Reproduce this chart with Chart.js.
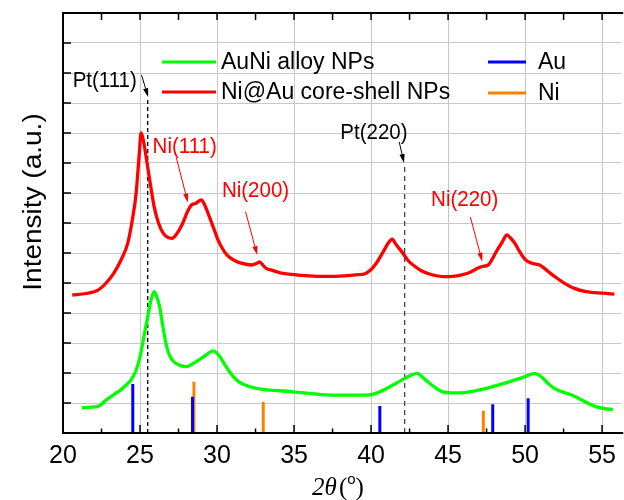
<!DOCTYPE html>
<html><head><meta charset="utf-8">
<script src="https://cdn.jsdelivr.net/npm/chart.js@4/dist/chart.umd.min.js"></script>
<style>html,body{margin:0;padding:0;background:#fff}#wrap{width:624px;height:500px}</style>
</head><body><div id="wrap"><canvas id="c" width="624" height="500"></canvas></div>
<script>
// ---- data ----
const coreX = [20.6,21.5,22.3,22.8,23.3,23.8,24.2,24.5,24.75,24.95,25.07,25.2,25.46,25.7,25.92,26.2,26.5,26.8,27.07,27.4,27.77,28.1,28.34,28.6,28.99,29.2,29.5,29.8,30.07,30.35,30.65,31.1,31.57,32.27,32.6,32.77,33.0,33.19,33.6,34.1,35.0,35.95,37.0,38.26,39.0,39.65,40.0,40.34,40.8,41.1,41.38,41.6,42.07,42.4,42.88,43.3,43.8,44.72,45.3,45.88,46.4,46.8,47.2,47.61,47.85,48.07,48.5,48.83,49.05,49.34,49.7,50.03,50.5,50.95,51.3,51.65,52.1,52.57,53.2,53.96,55.1,55.8];
const coreY = [4.6,4.65,4.77,5.0,5.33,5.8,6.32,7.1,8.0,9.3,10.0,9.8,8.99,8.2,7.54,7.0,6.66,6.52,6.49,6.65,6.99,7.4,7.6,7.65,7.77,7.6,7.21,6.8,6.43,6.15,5.93,5.76,5.66,5.6,5.66,5.7,5.58,5.49,5.42,5.34,5.28,5.24,5.22,5.24,5.27,5.32,5.45,5.66,6.05,6.32,6.46,6.3,5.99,5.75,5.54,5.4,5.3,5.21,5.22,5.27,5.35,5.46,5.55,5.6,5.78,5.99,6.35,6.6,6.5,6.32,6.0,5.77,5.65,5.6,5.47,5.32,5.15,4.99,4.82,4.71,4.66,4.63];
const alloyX = [21.23,21.8,22.34,22.8,23.3,23.73,24.1,24.42,24.75,25.0,25.25,25.46,25.7,25.92,26.05,26.27,26.5,26.73,26.95,27.19,27.6,28.0,28.4,28.8,29.3,29.73,29.95,30.19,30.5,30.88,31.2,31.57,32.1,32.73,33.7,34.8,36.0,37.11,38.5,39.88,40.5,41.03,41.6,42.18,42.6,42.99,43.4,43.8,44.2,44.6,45.2,45.88,46.7,47.49,48.4,49.34,50.0,50.61,50.9,51.18,51.6,52.1,53.03,53.6,54.18,54.6,55.1,55.7];
const alloyY = [0.84,0.86,0.9,1.1,1.28,1.43,1.6,1.77,2.1,2.54,3.2,3.77,4.4,4.71,4.6,4.21,3.5,2.88,2.55,2.38,2.25,2.21,2.3,2.43,2.6,2.74,2.68,2.54,2.28,1.99,1.8,1.66,1.55,1.47,1.42,1.38,1.32,1.27,1.26,1.27,1.36,1.49,1.65,1.82,1.93,1.99,1.83,1.66,1.5,1.38,1.34,1.34,1.4,1.49,1.62,1.77,1.88,1.99,1.93,1.82,1.6,1.43,1.27,1.12,0.97,0.88,0.82,0.78];
const auPos = [24.53, 28.41, 40.57, 47.9, 50.2];
const auInt = [1.63, 1.21, 0.9, 0.96, 1.16];
const niPos = [28.5, 33.0, 47.29];
const niInt = [1.71, 1.04, 0.74];
const ptPos = [25.5, 42.18];
const ptTop = [11.2, 9.0];
const xTicks = [20, 25, 30, 35, 40, 45, 50, 55];
const seriesNames = ['AuNi alloy NPs', 'Ni@Au core-shell NPs', 'Au', 'Ni'];

// ---- helpers ----
const pts = (xs, ys) => xs.map((v, i) => ({x: v, y: ys[i]}));
const sticks = (xs, hs) => xs.flatMap((v, i) => [{x: v, y: 0}, {x: v, y: hs[i]}, {x: v, y: null}]);

const FONT = '"Liberation Sans", Arial, sans-serif';
const notes = [
  {text: 'Pt(111)', color: '#000', tx: 22.71, ty: 11.74, a: [25.10, 11.93, 25.53, 11.2]},
  {text: 'Pt(220)', color: '#000', tx: 40.19, ty: 10.0, a: [41.83, 9.7, 42.14, 9.0]},
  {text: 'Ni(111)', color: '#ff0000', tx: 27.9, ty: 9.54, a: [27.36, 9.17, 28.11, 7.68]},
  {text: 'Ni(200)', color: '#ff0000', tx: 32.5, ty: 8.08, a: [31.85, 7.38, 32.61, 5.93]},
  {text: 'Ni(220)', color: '#ff0000', tx: 46.08, ty: 7.77, a: [46.45, 7.2, 47.22, 5.71]}
];
const legendItems = [
  {name: seriesNames[0], color: '#00ff00', x0: 162, x1: 216, tx: 221, y: 62},
  {name: seriesNames[1], color: '#ff0000', x0: 162, x1: 216, tx: 221, y: 92},
  {name: seriesNames[2], color: '#0000ff', x0: 488, x1: 526, tx: 538, y: 62},
  {name: seriesNames[3], color: '#ff8000', x0: 488, x1: 526, tx: 538, y: 93}
];

function arrow(ctx, x0, y0, x1, y1, color) {
  ctx.strokeStyle = color; ctx.fillStyle = color; ctx.lineWidth = 1; ctx.setLineDash([]);
  const ang = Math.atan2(y1 - y0, x1 - x0), L = 9, W = 2.6;
  const bx = x1 - L * Math.cos(ang), by = y1 - L * Math.sin(ang);
  ctx.beginPath(); ctx.moveTo(x0, y0); ctx.lineTo(bx, by); ctx.stroke();
  ctx.beginPath();
  ctx.moveTo(x1, y1);
  ctx.lineTo(bx + W * Math.sin(ang), by - W * Math.cos(ang));
  ctx.lineTo(bx - W * Math.sin(ang), by + W * Math.cos(ang));
  ctx.closePath(); ctx.fill();
}
function stretchedText(ctx, text, x, y, sy) {
  ctx.save(); ctx.translate(x, y); ctx.scale(1, sy); ctx.fillText(text, 0, 0); ctx.restore();
}

const deco = {
  id: 'deco',
  afterDatasetsDraw(chart) {
    const {ctx, chartArea: a, scales: {x, y}} = chart;
    ctx.save();
    // inward ticks
    ctx.strokeStyle = '#000'; ctx.lineWidth = 1.5; ctx.setLineDash([]);
    ctx.beginPath();
    xTicks.forEach(v => {
      const px = x.getPixelForValue(v);
      ctx.moveTo(px, a.bottom); ctx.lineTo(px, a.bottom - 8);
      ctx.moveTo(px, a.top); ctx.lineTo(px, a.top + 7);
      const m = x.getPixelForValue(v + 2.5);
      if (m < a.right) {
        ctx.moveTo(m, a.bottom); ctx.lineTo(m, a.bottom - 4.5);
        ctx.moveTo(m, a.top); ctx.lineTo(m, a.top + 7);
      }
    });
    y.ticks.forEach(t => {
      const py = y.getPixelForValue(t.value);
      ctx.moveTo(a.left, py); ctx.lineTo(a.left + 8, py);
    });
    ctx.stroke();
    // frame
    ctx.lineWidth = 2;
    ctx.beginPath();
    ctx.moveTo(a.right + 2, a.top); ctx.lineTo(a.left, a.top); ctx.lineTo(a.left, a.bottom); ctx.lineTo(a.right + 2, a.bottom);
    ctx.stroke();
    // annotations
    ctx.font = '20.5px ' + FONT; ctx.textAlign = 'center'; ctx.textBaseline = 'middle';
    notes.forEach(n => {
      ctx.fillStyle = n.color;
      stretchedText(ctx, n.text, x.getPixelForValue(n.tx), y.getPixelForValue(n.ty), 1.08);
      arrow(ctx, x.getPixelForValue(n.a[0]), y.getPixelForValue(n.a[1]), x.getPixelForValue(n.a[2]), y.getPixelForValue(n.a[3]), n.color);
    });
    // legend
    ctx.font = '23px ' + FONT; ctx.textAlign = 'left'; ctx.textBaseline = 'middle';
    legendItems.forEach(it => {
      ctx.strokeStyle = it.color; ctx.lineWidth = 3;
      ctx.beginPath(); ctx.moveTo(it.x0, it.y); ctx.lineTo(it.x1, it.y); ctx.stroke();
      ctx.fillStyle = '#000';
      ctx.fillText(it.name, it.tx, it.y + 1);
    });
    // y title
    ctx.save();
    ctx.translate(34, 202); ctx.scale(1, 1.12); ctx.rotate(-Math.PI / 2);
    ctx.font = '25px ' + FONT; ctx.textAlign = 'center'; ctx.fillStyle = '#000';
    ctx.fillText('Intensity (a.u.)', 0, 0);
    ctx.restore();
    // x title: 2θ(°)
    const cx = 338, base = 495;
    ctx.fillStyle = '#000'; ctx.textBaseline = 'alphabetic'; ctx.textAlign = 'left';
    const f1 = 'italic 25px "Liberation Serif", "Times New Roman", serif';
    const f2 = '25px "Liberation Serif", "Times New Roman", serif';
    const f3 = '15px "Liberation Sans", Arial, sans-serif';
    ctx.font = f1; const w1 = ctx.measureText('2θ').width;
    ctx.font = f2; const wp = ctx.measureText('(').width;
    ctx.font = f3; const wo = ctx.measureText('o').width;
    const tot = w1 + 2 + wp + wo + wp;
    let px = cx - tot / 2;
    ctx.font = f1; ctx.fillText('2θ', px, base); px += w1 + 2;
    ctx.font = f2; ctx.fillText('(', px, base); px += wp;
    ctx.font = f3; ctx.fillText('o', px, base - 11); px += wo;
    ctx.font = f2; ctx.fillText(')', px, base);
    ctx.restore();
  }
};

new Chart(document.getElementById('c'), {
  type: 'line',
  data: {
    datasets: [
      {label: seriesNames[0], data: pts(alloyX, alloyY), borderColor: '#00ff00', borderWidth: 3.3, pointRadius: 0, cubicInterpolationMode: 'monotone', order: 1},
      {label: seriesNames[1], data: pts(coreX, coreY), borderColor: '#ff0000', borderWidth: 3.3, pointRadius: 0, cubicInterpolationMode: 'monotone', order: 1},
      {label: seriesNames[2], data: sticks(auPos, auInt), borderColor: '#0000ff', borderWidth: 3, pointRadius: 0, spanGaps: false, order: 2},
      {label: seriesNames[3], data: sticks(niPos, niInt), borderColor: '#ff8000', borderWidth: 3, pointRadius: 0, spanGaps: false, order: 3},
      {label: 'Pt(111)', data: sticks([ptPos[0]], [ptTop[0]]), borderColor: '#000', borderWidth: 1.3, borderDash: [4, 3], pointRadius: 0, spanGaps: false, order: 4},
      {label: 'Pt(220)', data: sticks([ptPos[1]], [ptTop[1]]), borderColor: '#444', borderWidth: 1.3, borderDash: [5, 4], pointRadius: 0, spanGaps: false, order: 4}
    ]
  },
  options: {
    responsive: false, animation: false, devicePixelRatio: 1,
    layout: {padding: {left: 0, right: 0, top: 13, bottom: 0}},
    plugins: {legend: {display: false}, tooltip: {enabled: false}},
    scales: {
      x: {
        type: 'linear', min: 20, max: 56.24,
        afterBuildTicks: s => { s.ticks = xTicks.map(v => ({value: v})); },
        afterFit: s => { s.height = 67; },
        ticks: {font: {family: FONT, size: 25}, color: '#000', padding: 8, maxRotation: 0, autoSkip: false},
        grid: {color: '#c8c8c8', lineWidth: 1, drawTicks: false},
        border: {display: false}
      },
      y: {
        min: 0, max: 14,
        ticks: {stepSize: 1, display: false},
        afterFit: s => { s.width = 63; },
        grid: {color: '#c8c8c8', lineWidth: 1, drawTicks: false},
        border: {display: false}
      }
    }
  },
  plugins: [deco]
});
</script></body></html>
